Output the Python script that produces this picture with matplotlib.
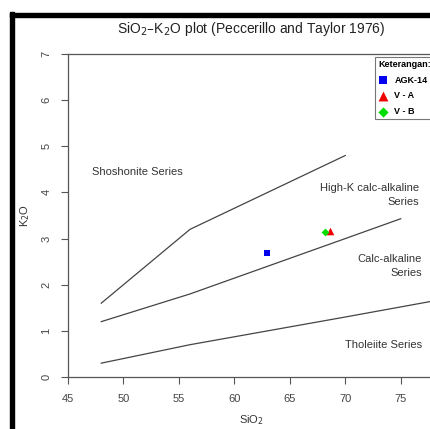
import matplotlib
matplotlib.use("Agg")
import matplotlib.pyplot as plt
from matplotlib.patches import Rectangle

plt.rcParams['font.family'] = ['Liberation Sans', 'DejaVu Sans']

# Boundary lines (Peccerillo & Taylor 1976)
hk_x = [48, 52, 56, 63, 70]
hk_y = [1.6, 2.4, 3.2, 4.0, 4.8]
ca_x = [48, 52, 56, 63, 70, 75]
ca_y = [1.2, 1.5, 1.8, 2.4, 3.0, 3.43]
th_x = [48, 52, 56, 63, 70, 78]
th_y = [0.3, 0.5, 0.7, 1.0, 1.3, 1.65]

# Samples
samples = ["AGK-14", "V - A", "V - B"]
sio2 = [62.9, 68.6, 68.2]
k2o = [2.68, 3.16, 3.14]
colors = ["#0000ee", "#ee0000", "#00dd00"]
markers = ["s", "^", "D"]
sizes = [18, 30, 16]

xticks = [45, 50, 55, 60, 65, 70, 75]
yticks = [0, 1, 2, 3, 4, 5, 6, 7]

W, H = 430, 429
fig = plt.figure(figsize=(W / 100, H / 100), dpi=100)
ax = fig.add_axes([68 / W, 1 - 377 / H, (434 - 68) / W, (377 - 54) / H])
ax.set_xlim(45, 78)
ax.set_ylim(0, 7)

lc = "#444444"
for xs, ys in [(hk_x, hk_y), (ca_x, ca_y), (th_x, th_y)]:
    ax.plot(xs, ys, color=lc, lw=0.9)

for s, x, y, c, m, sz in zip(samples, sio2, k2o, colors, markers, sizes):
    ax.scatter([x], [y], c=c, marker=m, s=sz, label=s, zorder=3, linewidths=0)

tc = "#333333"
ax.text(51.3, 4.45, "Shoshonite Series", fontsize=8, color=tc, ha="center", va="center")
ax.text(76.65, 3.94, "High-K calc-alkaline\nSeries", fontsize=8, color=tc, ha="right", va="center", linespacing=1.45)
ax.text(76.9, 2.40, "Calc-alkaline\nSeries", fontsize=8, color=tc, ha="right", va="center", linespacing=1.45)
ax.text(76.9, 0.69, "Tholeiite Series", fontsize=8, color=tc, ha="right", va="center")

for sp in ["left", "bottom", "top", "right"]:
    ax.spines[sp].set_color("#555555")
    ax.spines[sp].set_linewidth(0.9)

ax.set_xticks(xticks)
ax.set_yticks(yticks)
ax.tick_params(direction="out", length=5, width=0.8, color="#555555",
               labelsize=8, labelcolor="#444444", pad=7)
ax.set_yticklabels([str(v) for v in yticks], rotation=90, va="center")
ax.set_xlabel("SiO$_2$", fontsize=8, color=tc, labelpad=7)
ax.set_ylabel("K$_2$O", fontsize=8, color=tc, labelpad=7)
ax.set_title("SiO$_2$–K$_2$O plot (Peccerillo and Taylor 1976)", fontsize=10, color="#222222", pad=15)

leg = ax.legend(loc="upper left", bbox_to_anchor=(0.84, 0.99), title="Keterangan:",
                frameon=True, fancybox=False, edgecolor="#555555", fontsize=6.5,
                title_fontsize=6.5, handletextpad=0.8, labelspacing=0.75, borderpad=0.3,
                handlelength=1.0, alignment="left", markerscale=1.3, borderaxespad=0)
leg.get_title().set_fontweight("bold")
for t in leg.get_texts():
    t.set_fontweight("bold")
leg.get_frame().set_linewidth(0.8)

# Outer black frame (left and top)
fig.patches.append(Rectangle((10 / W, 0), 3.5 / W, 1 - 12 / H, transform=fig.transFigure,
                             color="black", zorder=10))
fig.patches.append(Rectangle((10 / W, 1 - 17 / H), 1.0, 4 / H, transform=fig.transFigure,
                             color="black", zorder=10))

fig.savefig("out.png", dpi=100)
